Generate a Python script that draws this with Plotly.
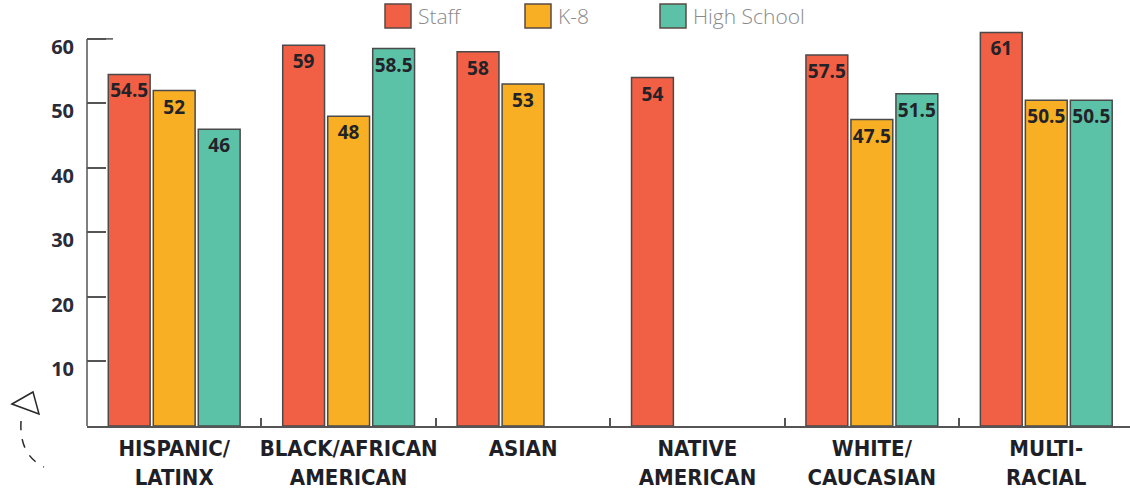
import plotly.graph_objects as go

categories = ["HISPANIC/<br>LATINX", "BLACK/AFRICAN<br>AMERICAN", "ASIAN",
              "NATIVE<br>AMERICAN", "WHITE/<br>CAUCASIAN", "MULTI-<br>RACIAL"]
series_names = ["Staff", "K-8", "High School"]
staff = [54.5, 59, 58, 54, 57.5, 61]
k8 = [52, 48, 53, None, 47.5, 50.5]
high_school = [46, 58.5, None, None, 51.5, 50.5]
y_ticks = [10, 20, 30, 40, 50, 60]

colors = ["#F15F45", "#F8AF24", "#5BC2A8"]
edge = "#4a4a4a"

W, H = 1130, 492
ML, MR, MT, MB = 87, 0, 26, 66
PW, PH = W - ML - MR, H - MT - MB


def px(x):
    return (x - ML) / PW


def py(y):
    return (H - MB - y) / PH


def fmt(v):
    if v is None:
        return ""
    return ("%g" % v)


fig = go.Figure()
for name, vals, col in zip(series_names, [staff, k8, high_school], colors):
    fig.add_trace(go.Bar(
        x=categories, y=vals, name=name,
        marker=dict(color=col, line=dict(color=edge, width=1.5)),
        text=[fmt(v) for v in vals], textposition="inside", textangle=0,
        insidetextanchor="end", constraintext="none",
        textfont=dict(family="Open Sans", size=19, color="#222228", weight="bold"),
        showlegend=False, hoverinfo="skip",
    ))

shapes = []
annotations = []

# y axis line (0 to 60) and longer top tick
shapes.append(dict(type="line", xref="paper", yref="y", x0=0, x1=0, y0=0, y1=60,
                   line=dict(color="#555", width=1.5)))
shapes.append(dict(type="line", xref="paper", yref="y", x0=0, x1=px(113), y0=60, y1=60,
                   line=dict(color="#555", width=1.5)))

# custom legend
legend_x = [385, 525, 660]
for name, col, lx in zip(series_names, colors, legend_x):
    shapes.append(dict(type="rect", xref="paper", yref="paper",
                       x0=px(lx), x1=px(lx + 26), y0=py(28), y1=py(4),
                       fillcolor=col, line=dict(color="#5a4a44", width=1.5)))
    annotations.append(dict(xref="paper", yref="paper", x=px(lx + 31), y=py(16),
                            text=name, showarrow=False, xanchor="left", yanchor="middle",
                            font=dict(family="Open Sans", size=21, color="#8a8a8a", weight=300)))

# decorative arrow at bottom-left
tri = [(12, 404), (33, 392), (39, 414)]
path = "M %f %f L %f %f L %f %f Z" % tuple(v for p in tri for v in (px(p[0]), py(p[1])))
shapes.append(dict(type="path", xref="paper", yref="paper", path=path,
                   line=dict(color="#2a2a2a", width=1.5)))
curve = "M %f %f Q %f %f %f %f" % (px(21), py(421), px(19), py(455), px(44), py(467))
shapes.append(dict(type="path", xref="paper", yref="paper", path=curve,
                   line=dict(color="#2a2a2a", width=1.5, dash="dash")))

fig.update_layout(
    width=W, height=H,
    margin=dict(l=ML, r=MR, t=MT, b=MB, autoexpand=False),
    paper_bgcolor="white", plot_bgcolor="white",
    barmode="group", bargap=0.226, bargroupgap=0.07,
    shapes=shapes, annotations=annotations,
    xaxis=dict(
        range=[-0.5, 5.48], showgrid=False, zeroline=False, automargin=False,
        showline=True, linecolor="#555", linewidth=1.5, tickangle=0,
        ticks="inside", tickson="boundaries", ticklen=8, tickcolor="#555", tickwidth=1.5,
        tickfont=dict(family="DejaVu Sans Condensed, Liberation Sans Narrow, Roboto", size=22,
                      color="#1f1f28", weight="bold"),
        ticklabelstandoff=2,
    ),
    yaxis=dict(
        range=[0, 62], showgrid=False, zeroline=False, showline=False, automargin=False,
        tickvals=y_ticks, ticktext=[str(t) for t in y_ticks],
        ticks="inside", ticklen=19, tickcolor="#555", tickwidth=1.5,
        tickfont=dict(family="Open Sans", size=20, color="#2b2b38", weight="bold"),
        ticklabelstandoff=12, ticklabelshift=8,
    ),
)

fig.write_html("out.html", config={"displayModeBar": False},
               post_script="document.body.style.margin='0';document.body.style.overflow='hidden';")
